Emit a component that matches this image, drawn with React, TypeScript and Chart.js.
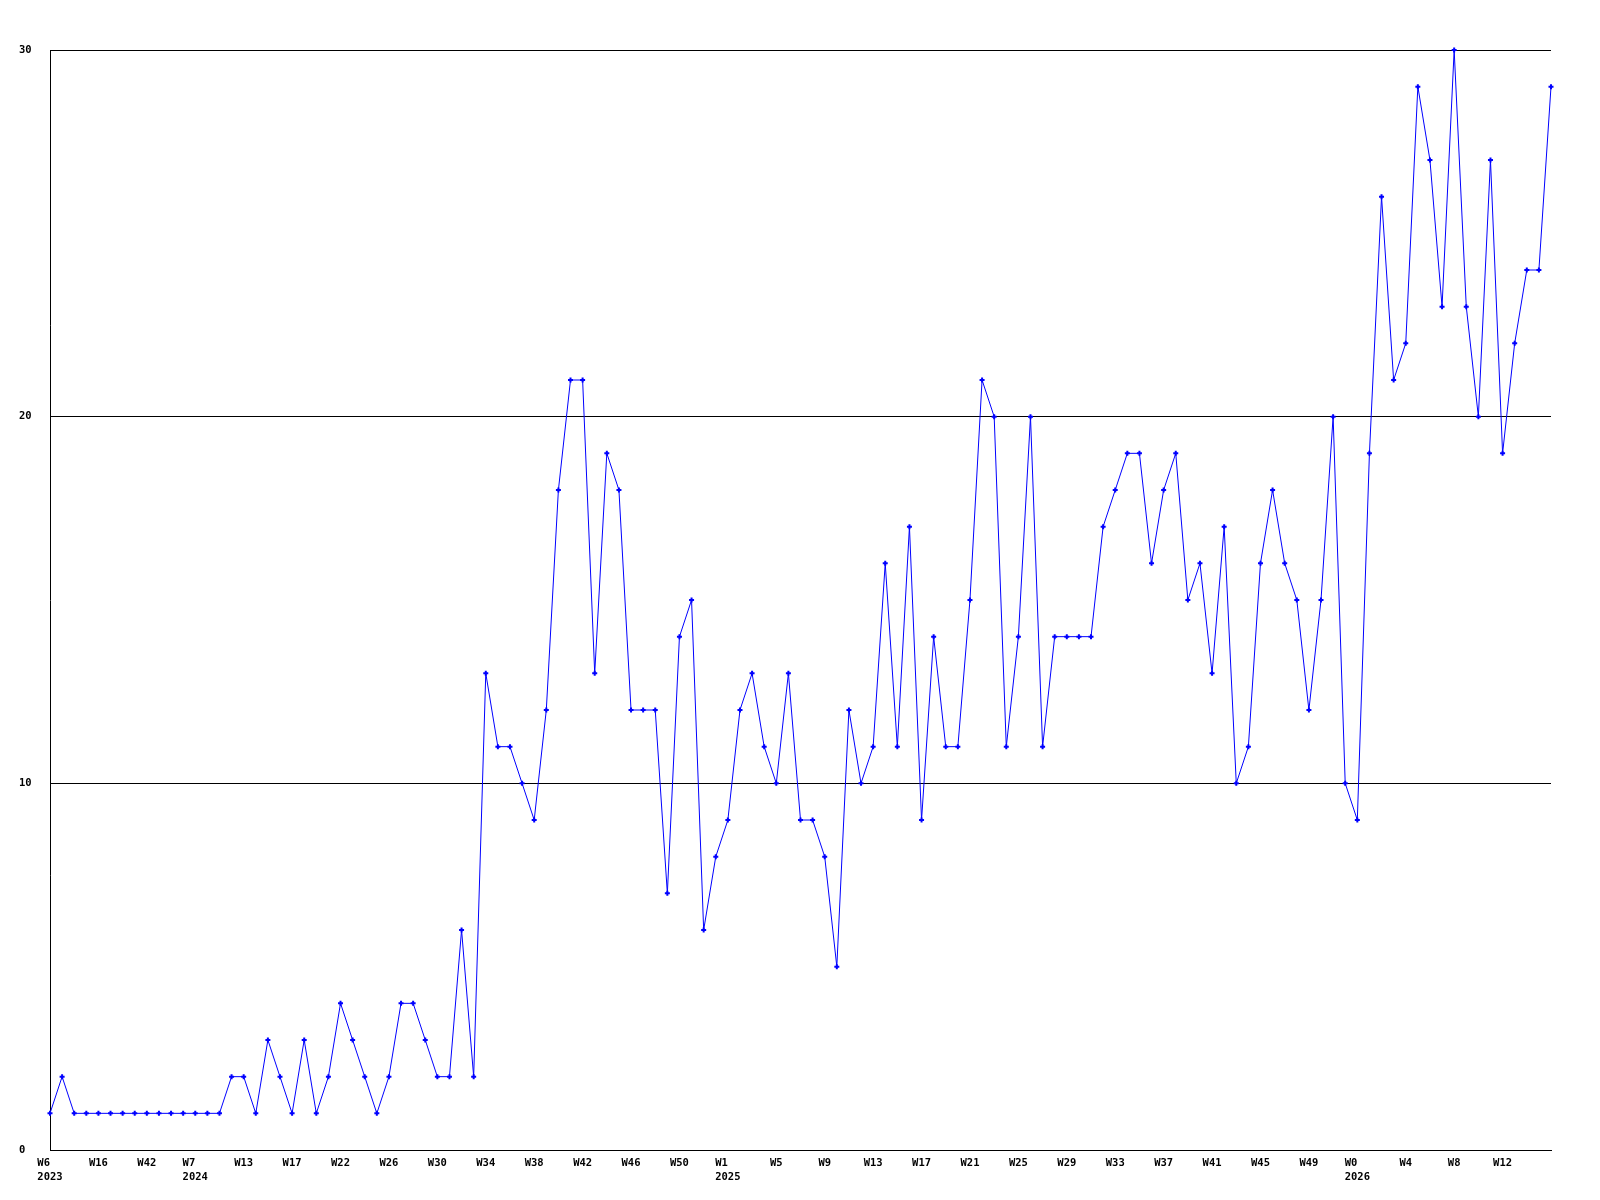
import React, { useEffect, useRef } from "react";
import { Chart, registerables } from "chart.js";

Chart.register(...registerables);

// Weekly values (125 weeks)
const weeklyValues: number[] = [
  1, 2, 1, 1, 1, 1, 1, 1, 1, 1, 1, 1, 1, 1, 1,
  2, 2, 1, 3, 2, 1, 3, 1, 2, 4, 3, 2, 1, 2, 4, 4, 3, 2, 2, 6, 2,
  13, 11, 11, 10, 9, 12, 18, 21, 21, 13, 19, 18, 12, 12, 12, 7, 14, 15, 6, 8, 9, 12, 13,
  11, 10, 13, 9, 9, 8, 5, 12, 10, 11, 16, 11, 17, 9, 14, 11, 11, 15, 21, 20, 11, 14, 20, 11, 14,
  14, 14, 14, 17, 18, 19, 19, 16, 18, 19, 15, 16, 13, 17, 10, 11, 16, 18, 16, 15, 12, 15, 20, 10, 9,
  19, 26, 21, 22, 29, 27, 23, 30, 23, 20, 27, 19, 22, 24, 24, 29,
];

// Labelled weeks (one every 4th point)
const tickLabels: string[] = [
  "W6", "W16", "W42", "W7", "W13", "W17", "W22", "W26", "W30", "W34", "W38",
  "W42", "W46", "W50", "W1", "W5", "W9", "W13", "W17", "W21", "W25", "W29",
  "W33", "W37", "W41", "W45", "W49", "W0", "W4", "W8", "W12",
];

// Year shown under certain tick labels (index into tickLabels)
const yearTickIndex: number[] = [0, 3, 14, 27];
const yearLabels: string[] = ["2023", "2024", "2025", "2026"];

const labelEvery = 4;

const yTicks: number[] = [0, 10, 20, 30];

const categories: string[] = weeklyValues.map((_, i) =>
  i % labelEvery === 0 && tickLabels[i / labelEvery] !== undefined ? tickLabels[i / labelEvery] : ""
);

const FONT = {
  family: "'DejaVu Sans Mono', 'Liberation Mono', monospace",
  size: 10.5,
  weight: "bold" as const,
  lineHeight: 1.3334,
};

export default function App() {
  const canvasRef = useRef<HTMLCanvasElement | null>(null);

  useEffect(() => {
    document.body.style.margin = "0";
    const canvas = canvasRef.current;
    if (!canvas) return;

    const chart = new Chart(canvas, {
      type: "line",
      data: {
        labels: categories,
        datasets: [
          {
            data: weeklyValues,
            borderColor: "#0000ff",
            backgroundColor: "#0000ff",
            borderWidth: 1,
            tension: 0,
            fill: false,
            pointStyle: "cross",
            pointRadius: 2.5,
            pointBorderWidth: 2,
            pointBorderColor: "#0000ff",
            pointBackgroundColor: "#0000ff",
            pointHoverRadius: 2.5,
            clip: false as any,
          },
        ],
      },
      options: {
        responsive: false,
        animation: false,
        events: [],
        layout: { padding: { left: 19, top: 50, right: 49, bottom: 16 } },
        plugins: {
          legend: { display: false },
          tooltip: { enabled: false },
          title: { display: false },
        },
        scales: {
          x: {
            type: "category",
            offset: false,
            grid: { display: false, drawTicks: false },
            border: { display: true, color: "#000000", width: 1 },
            ticks: {
              autoSkip: false,
              maxRotation: 0,
              minRotation: 0,
              padding: 6,
              color: "#000000",
              font: FONT,
              callback: function (this: any, _value: any, index: number) {
                if (index % labelEvery !== 0) return "";
                const t = index / labelEvery;
                const label = tickLabels[t];
                if (label === undefined) return "";
                const yi = yearTickIndex.indexOf(t);
                if (yi < 0) return label;
                const year = yearLabels[yi];
                // monospace: pad so both lines share a left edge
                return [label.padEnd(year.length, " "), year];
              },
            },
            afterFit: (scale: any) => {
              scale.height = 34;
            },
          },
          y: {
            min: yTicks[0],
            max: yTicks[yTicks.length - 1],
            grid: { display: true, color: "#000000", lineWidth: 1, drawTicks: false },
            border: { display: true, color: "#000000", width: 1 },
            afterBuildTicks: (scale: any) => {
              scale.ticks = yTicks.map((v) => ({ value: v }));
            },
            ticks: {
              crossAlign: "far",
              padding: 0,
              color: "#000000",
              font: FONT,
            },
            afterFit: (scale: any) => {
              scale.width = 31;
            },
          },
        },
      },
    });

    return () => {
      chart.destroy();
    };
  }, []);

  return (
    <div style={{ width: 1600, height: 1200, background: "#ffffff" }}>
      <canvas ref={canvasRef} width={1600} height={1200} style={{ display: "block" }} />
    </div>
  );
}
